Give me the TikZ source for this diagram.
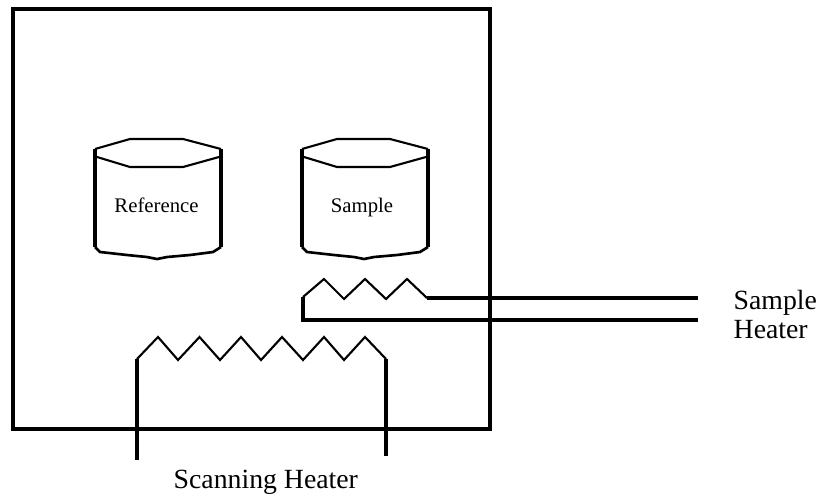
\documentclass[tikz,border=0pt]{standalone}
\usepackage{fontspec}
\setmainfont{Liberation Serif}
\tikzset{
    thinwire/.style={draw=black, line width=0.6pt, line join=miter},
    thickwire/.style={draw=black, line width=0.9pt},
    tinylabel/.style={font=\fontsize{5.9}{7}\selectfont, inner sep=0pt, anchor=base},
    heaterlabel/.style={font=\fontsize{7.9}{9}\selectfont, inner sep=0pt, anchor=base west},
}
\begin{document}
\begin{tikzpicture}
    \useasboundingbox (0,0) rectangle (8.21,4.96);
    % chamber
    \draw[thickwire] (0.13,0.67) rectangle (4.90,4.87);
    % pans
    \foreach \x in {0,2.07} {
    \begin{scope}[xshift=\x cm]
    \draw[thickwire] (0.95,3.47) -- (0.95,2.49);
    \draw[thickwire] (2.21,3.47) -- (2.21,2.49);
    \draw[thinwire] (0.95,3.47) -- (1.30,3.57) -- (1.83,3.57) -- (2.21,3.47);
    \draw[thinwire] (0.97,3.39) -- (1.30,3.29) -- (1.83,3.29) -- (2.19,3.39);
    \draw[thinwire, line width=0.75pt] (0.95,2.49) -- (1.00,2.44) -- (1.27,2.41) -- (1.47,2.39) -- (1.57,2.37) -- (1.67,2.39) -- (1.90,2.41) -- (2.13,2.44) -- (2.21,2.49);
    \end{scope}
    }
    \node[tinylabel] (reference) at (1.565,2.84) {Reference};
    \node[tinylabel] (sample) at (3.62,2.84) {Sample};
    % sample heater
    \draw[thickwire] (3.03,1.99) -- (3.03,1.76) -- (6.98,1.76);
    \draw[thinwire] (3.03,1.99) -- (3.24,2.17) -- (3.44,1.97) -- (3.65,2.17) -- (3.86,1.97) -- (4.07,2.17) -- (4.27,1.98);
    \draw[thickwire] (4.27,1.98) -- (6.98,1.98);
    \node[heaterlabel] (sampleheater) at (7.33,1.87) {Sample};
    \node[heaterlabel] (heater) at (7.33,1.58) {Heater};
    % scanning heater
    \draw[thickwire] (1.37,1.37) -- (1.37,0.36);
    \draw[thickwire] (3.86,1.37) -- (3.86,0.40);
    \draw[thinwire] (1.37,1.37) -- (1.58,1.59) -- (1.78,1.36) -- (1.995,1.59) -- (2.20,1.36) -- (2.41,1.59) -- (2.61,1.36) -- (2.82,1.59) -- (3.03,1.36) -- (3.24,1.59) -- (3.44,1.36) -- (3.65,1.59) -- (3.86,1.37);
    \node[heaterlabel] (scanning) at (1.73,0.08) {Scanning Heater};
\end{tikzpicture}
\end{document}
